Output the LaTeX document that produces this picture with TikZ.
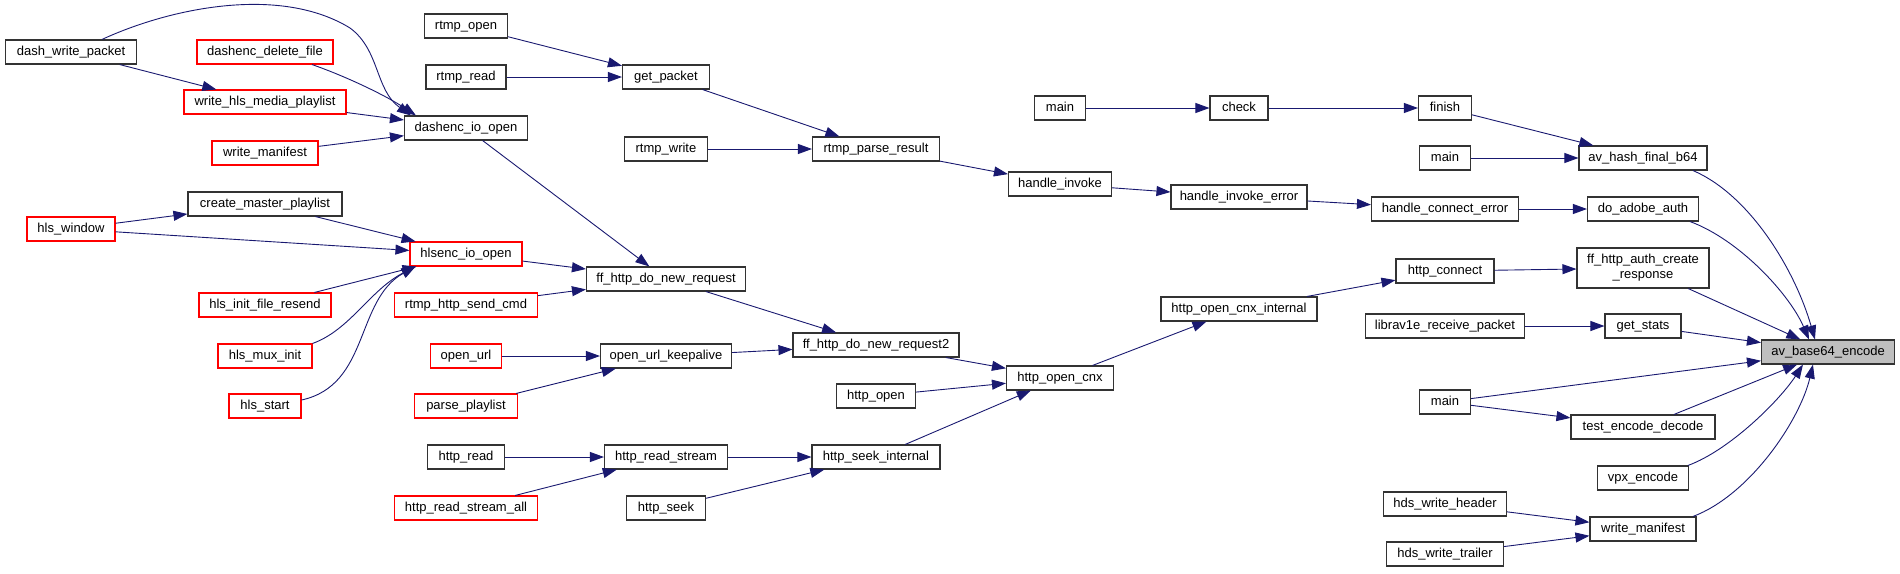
\documentclass[tikz,border=0pt]{standalone}
\usepackage{fontspec}
\setmainfont{Liberation Sans}
\usetikzlibrary{arrows.meta}
\definecolor{callblue}{RGB}{25,25,112}
\definecolor{curgray}{RGB}{191,191,191}
\tikzset{
fnbase/.style={draw=black!80,fill=white,line width=1.1pt,inner xsep=2pt,minimum height=24pt,font=\fontsize{13}{15}\selectfont},
fn/.style={fnbase,text height=9.5pt,text depth=3pt},
fnred/.style={fn,draw=red},
fncur/.style={fn,fill=curgray},
call/.style={draw=callblue,line width=0.9pt,-{Triangle[length=14pt,width=10pt]}}
}
\begin{document}
\begin{tikzpicture}[x=1pt,y=1pt]
\useasboundingbox (0,0) rectangle (1900,-573);
\node[fn,minimum width=131pt] (dwp) at (71,-52) {dash\_write\_packet};
\node[fnred,minimum width=88pt] (hlswin) at (71,-229) {hls\_window};
\node[fnred,minimum width=136pt] (ddf) at (265,-52) {dashenc\_delete\_file};
\node[fnred,minimum width=162pt] (whmp) at (265,-102) {write\_hls\_media\_playlist};
\node[fnred,minimum width=106pt] (wmanl) at (265,-153) {write\_manifest};
\node[fn,minimum width=154pt] (cmp) at (265,-204) {create\_master\_playlist};
\node[fnred,minimum width=132pt] (hifr) at (265,-305) {hls\_init\_file\_resend};
\node[fnred,minimum width=94pt] (hmi) at (265,-356) {hls\_mux\_init};
\node[fnred,minimum width=72pt] (hst) at (265,-406) {hls\_start};
\node[fn,minimum width=83pt] (ropen) at (466,-26) {rtmp\_open};
\node[fn,minimum width=80pt] (rread) at (466,-77) {rtmp\_read};
\node[fn,minimum width=123pt] (dio) at (466,-128) {dashenc\_io\_open};
\node[fnred,minimum width=112pt] (hio) at (466,-254) {hlsenc\_io\_open};
\node[fnred,minimum width=143pt] (rhsc) at (466,-305) {rtmp\_http\_send\_cmd};
\node[fnred,minimum width=71pt] (ourl) at (466,-356) {open\_url};
\node[fnred,minimum width=103pt] (ppl) at (466,-406) {parse\_playlist};
\node[fn,minimum width=77pt] (hread) at (466,-457) {http\_read};
\node[fnred,minimum width=143pt] (hrsa) at (466,-508) {http\_read\_stream\_all};
\node[fn,minimum width=87pt] (gpk) at (666,-77) {get\_packet};
\node[fn,minimum width=83pt] (rwrite) at (666,-149) {rtmp\_write};
\node[fn,minimum width=159pt] (ffdnr) at (666,-279) {ff\_http\_do\_new\_request};
\node[fn,minimum width=131pt] (ouk) at (666,-356) {open\_url\_keepalive};
\node[fn,minimum width=123pt] (hrs) at (666,-457) {http\_read\_stream};
\node[fn,minimum width=79pt] (hseek) at (666,-508) {http\_seek};
\node[fn,minimum width=127pt] (rpr) at (876,-149) {rtmp\_parse\_result};
\node[fn,minimum width=166pt] (ffdnr2) at (876,-345) {ff\_http\_do\_new\_request2};
\node[fn,minimum width=79pt] (hopen) at (876,-396) {http\_open};
\node[fn,minimum width=128pt] (hsi) at (876,-457) {http\_seek\_internal};
\node[fn,minimum width=51pt] (mainb) at (1060,-108) {main};
\node[fn,minimum width=103pt] (hinv) at (1060,-184) {handle\_invoke};
\node[fn,minimum width=107pt] (hoc) at (1060,-378) {http\_open\_cnx};
\node[fn,minimum width=58pt] (chk) at (1239,-108) {check};
\node[fn,minimum width=136pt] (hie) at (1239,-197) {handle\_invoke\_error};
\node[fn,minimum width=156pt] (hoci) at (1239,-309) {http\_open\_cnx\_internal};
\node[fn,minimum width=53pt] (fin) at (1445,-108) {finish};
\node[fn,minimum width=51pt] (mainc) at (1445,-158) {main};
\node[fn,minimum width=147pt] (hce) at (1445,-209) {handle\_connect\_error};
\node[fn,minimum width=98pt] (hconn) at (1445,-271) {http\_connect};
\node[fn,minimum width=159pt] (lrp) at (1445,-326) {librav1e\_receive\_packet};
\node[fn,minimum width=51pt] (maind) at (1445,-402) {main};
\node[fn,minimum width=123pt] (hdsh) at (1445,-504) {hds\_write\_header};
\node[fn,minimum width=117pt] (hdst) at (1445,-554) {hds\_write\_trailer};
\node[fn,minimum width=128pt] (ahf) at (1643,-158) {av\_hash\_final\_b64};
\node[fn,minimum width=111pt] (daa) at (1643,-209) {do\_adobe\_auth};
\node[fnbase,minimum width=132pt,minimum height=40pt,align=center] (fhac) at (1643,-268) {ff\_http\_auth\_create\\\_response};
\node[fn,minimum width=76pt] (gst) at (1643,-326) {get\_stats};
\node[fn,minimum width=144pt] (ted) at (1643,-427) {test\_encode\_decode};
\node[fn,minimum width=91pt] (vpx) at (1643,-478) {vpx\_encode};
\node[fn,minimum width=106pt] (wmanr) at (1643,-529) {write\_manifest};
\node[fncur,minimum width=133pt] (b64) at (1828,-352) {av\_base64\_encode};
\draw[call] (dwp) -- (whmp);
\draw[call] ([xshift=31pt]dwp.north) .. controls (170,-8) and (280,15) .. (350,-28) .. controls (380,-50) and (375,-90) .. ([xshift=7pt]dio.north west);
\draw[call] ([xshift=47pt]ddf.south) .. controls (345,-76) and (385,-95) .. ([xshift=12pt]dio.north west);
\draw[call] (whmp) -- (dio);
\draw[call] (wmanl) -- (dio);
\draw[call] (hlswin) -- (cmp);
\draw[call] (hlswin) -- (hio);
\draw[call] (cmp) -- (hio);
\draw[call] (hifr) -- (hio);
\draw[call] (hmi.north east) .. controls (350,-330) and (370,-290) .. ([xshift=6pt]hio.south west);
\draw[call] ([yshift=6pt]hst.east) .. controls (370,-385) and (355,-300) .. ([xshift=6pt]hio.south west);
\draw[call] (ropen) -- (gpk);
\draw[call] (rread) -- (gpk);
\draw[call] (dio) -- (ffdnr);
\draw[call] (hio) -- (ffdnr);
\draw[call] (rhsc) -- (ffdnr);
\draw[call] (ourl) -- (ouk);
\draw[call] (ppl) -- (ouk);
\draw[call] (hread) -- (hrs);
\draw[call] (hrsa) -- (hrs);
\draw[call] (gpk) -- (rpr);
\draw[call] (rwrite) -- (rpr);
\draw[call] (ffdnr) -- (ffdnr2);
\draw[call] (ouk) -- (ffdnr2);
\draw[call] (hrs) -- (hsi);
\draw[call] (hseek) -- (hsi);
\draw[call] (rpr) -- (hinv);
\draw[call] (ffdnr2) -- (hoc);
\draw[call] (hopen) -- (hoc);
\draw[call] (hsi) -- (hoc);
\draw[call] (mainb) -- (chk);
\draw[call] (hinv) -- (hie);
\draw[call] (hoc) -- (hoci);
\draw[call] (chk) -- (fin);
\draw[call] (hie) -- (hce);
\draw[call] (hoci) -- (hconn);
\draw[call] (fin) -- (ahf);
\draw[call] (mainc) -- (ahf);
\draw[call] (hce) -- (daa);
\draw[call] (hconn) -- (fhac);
\draw[call] (lrp) -- (gst);
\draw[call] (maind) -- (ted);
\draw[call] (hdsh) -- (wmanr);
\draw[call] (hdst) -- (wmanr);
\draw[call] ([xshift=50pt]ahf.south) .. controls (1750,-195) and (1795,-270) .. ([xshift=54pt]b64.north west);
\draw[call] ([xshift=47pt]daa.south) .. controls (1740,-240) and (1790,-295) .. ([xshift=48pt]b64.north west);
\draw[call] (fhac) -- (b64);
\draw[call] (gst) -- (b64);
\draw[call] (maind) -- (b64);
\draw[call] (ted) -- (b64);
\draw[call] ([xshift=45pt]vpx.north) .. controls (1730,-450) and (1780,-400) .. ([xshift=42pt]b64.south west);
\draw[call] ([xshift=50pt]wmanr.north) .. controls (1750,-495) and (1800,-420) .. ([xshift=52pt]b64.south west);
\end{tikzpicture}
\end{document}
